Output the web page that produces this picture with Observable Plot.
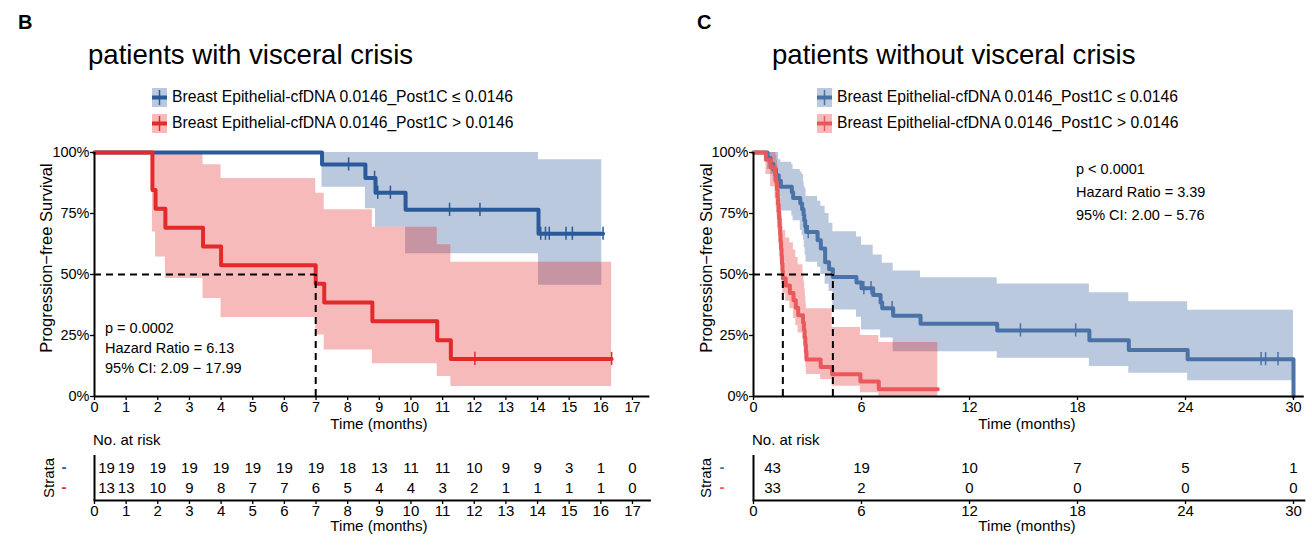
<!DOCTYPE html>
<html><head><meta charset="utf-8">
<script src="https://cdn.jsdelivr.net/npm/d3@7"></script>
<script src="https://cdn.jsdelivr.net/npm/@observablehq/plot@0.6"></script>
<style>
html,body{margin:0;padding:0;background:#fff;}
#root{position:relative;width:1312px;height:545px;overflow:hidden;font-family:'Liberation Sans',Arial,Helvetica,sans-serif;color:#000;}
.t{position:absolute;white-space:nowrap;line-height:1;}
</style></head><body><div id="root"></div>
<script>
// ---------------- DATA ----------------
const strata = ["Breast Epithelial-cfDNA 0.0146_Post1C ≤ 0.0146", "Breast Epithelial-cfDNA 0.0146_Post1C > 0.0146"];
const yTicks = [0, 0.25, 0.5, 0.75, 1];
const yTickLabels = ["0%", "25%", "50%", "75%", "100%"];
const medianLevel = 0.5;

// Panel B: patients with visceral crisis
const B_xTicks = [0,1,2,3,4,5,6,7,8,9,10,11,12,13,14,15,16,17];
const B_blueT = [0, 7.19, 8.56, 8.88, 9.83, 14.03, 16.07];
const B_blueS = [1, 0.951, 0.896, 0.835, 0.765, 0.667, 0.667];
const B_blueBandT  = [7.19, 8.56, 8.88, 9.83, 14.03, 16.03];
const B_blueBandLo = [0.858, 0.769, 0.694, 0.585, 0.456, 0.456];
const B_blueBandHi = [1, 1, 1, 1, 0.97, 0.97];
const B_blueCensT = [8.03, 8.85, 8.95, 9.35, 11.22, 12.18, 14.1, 14.25, 14.37, 14.9, 15.1, 16.07];
const B_blueCensS = [0.951, 0.896, 0.835, 0.835, 0.765, 0.765, 0.667, 0.667, 0.667, 0.667, 0.667, 0.667];
const B_redT = [0, 1.83, 1.93, 2.24, 3.43, 4.0, 6.99, 7.26, 8.78, 10.83, 11.26, 16.34];
const B_redS = [1, 0.846, 0.769, 0.692, 0.615, 0.538, 0.462, 0.385, 0.308, 0.231, 0.154, 0.154];
const B_redBandT  = [1.83, 1.93, 2.24, 3.43, 4.0, 6.99, 7.26, 8.78, 10.83, 11.26, 16.34];
const B_redBandLo = [0.674, 0.572, 0.484, 0.402, 0.324, 0.252, 0.191, 0.134, 0.082, 0.041, 0.041];
const B_redBandHi = [1, 1, 1, 0.95, 0.893, 0.833, 0.765, 0.694, 0.622, 0.55, 0.55];
const B_redCensT = [12.02, 16.34];
const B_redCensS = [0.154, 0.154];
const B_medians = [6.99];
const B_stats = ["p = 0.0002", "Hazard Ratio = 6.13", "95% CI: 2.09 − 17.99"];
const B_riskT = [0,1,2,3,4,5,6,7,8,9,10,11,12,13,14,15,16,17];
const B_riskBlue = [19,19,19,19,19,19,19,19,18,13,11,11,10,9,9,3,1,0];
const B_riskRed  = [13,13,10,9,8,7,7,6,5,4,4,3,2,1,1,1,1,0];

// Panel C: patients without visceral crisis
const C_xTicks = [0, 6, 12, 18, 24, 30];
const C_blueT = [0, 0.78, 0.95, 1.1, 1.25, 1.4, 1.52, 2.13, 2.2, 2.6, 2.7, 2.78, 2.82, 2.87, 2.92, 3.56, 3.74, 3.98, 4.2, 4.41, 5.72, 6.0, 6.65, 7.06, 7.15, 7.76, 9.28, 13.54, 18.66, 20.85, 24.12, 30.0];
const C_blueS = [1, 0.977, 0.953, 0.930, 0.907, 0.884, 0.860, 0.837, 0.814, 0.791, 0.767, 0.744, 0.721, 0.698, 0.674, 0.64, 0.607, 0.55, 0.522, 0.49, 0.467, 0.444, 0.416, 0.385, 0.362, 0.331, 0.298, 0.271, 0.231, 0.191, 0.153, 0];
const C_blueBandT  = [0.78, 0.95, 1.1, 1.25, 1.4, 1.52, 2.13, 2.2, 2.6, 2.7, 2.78, 2.82, 2.87, 2.92, 3.56, 3.74, 3.98, 4.2, 4.41, 5.72, 6.0, 6.65, 7.06, 7.15, 7.76, 9.28, 13.54, 18.66, 20.85, 24.12, 30.0];
const C_blueBandHi = [1, 1, 1, 1, 0.97, 0.96, 0.95, 0.93, 0.92, 0.91, 0.88, 0.86, 0.85, 0.82, 0.80, 0.78, 0.75, 0.71, 0.675, 0.654, 0.62, 0.58, 0.58, 0.546, 0.514, 0.487, 0.461, 0.425, 0.388, 0.353, 0.353];
const C_blueBandLo = [0.93, 0.91, 0.88, 0.85, 0.82, 0.76, 0.74, 0.72, 0.68, 0.66, 0.64, 0.61, 0.58, 0.55, 0.53, 0.50, 0.46, 0.43, 0.355, 0.325, 0.273, 0.273, 0.24, 0.24, 0.183, 0.183, 0.157, 0.123, 0.095, 0.065, 0.065];
const C_blueCensT = [3.04, 6.13, 6.53, 7.7, 14.83, 17.9, 28.2, 28.45, 29.14];
const C_blueCensS = [0.674, 0.444, 0.444, 0.362, 0.271, 0.271, 0.153, 0.153, 0.153];
const C_redT = [0, 0.69, 0.95, 1.2, 1.25, 1.3, 1.33, 1.36, 1.39, 1.42, 1.45, 1.48, 1.5, 1.53, 1.56, 1.58, 1.61, 1.63, 1.79, 2.02, 2.22, 2.35, 2.48, 2.75, 2.8, 2.84, 2.88, 2.91, 2.94, 3.73, 4.37, 5.94, 6.96, 10.24];
const C_redS = [1, 0.970, 0.939, 0.909, 0.879, 0.848, 0.818, 0.788, 0.758, 0.727, 0.697, 0.667, 0.636, 0.606, 0.576, 0.545, 0.515, 0.485, 0.455, 0.424, 0.394, 0.364, 0.333, 0.303, 0.273, 0.242, 0.212, 0.182, 0.152, 0.121, 0.091, 0.061, 0.030, 0.030];
const C_redBandT  = [0.69, 0.95, 1.2, 1.25, 1.3, 1.33, 1.36, 1.39, 1.42, 1.45, 1.48, 1.5, 1.53, 1.56, 1.58, 1.61, 1.63, 1.79, 2.02, 2.22, 2.35, 2.48, 2.75, 2.8, 2.84, 2.88, 2.91, 2.94, 3.73, 4.37, 5.94, 6.96, 10.24];
const C_redBandHi = [1.0, 1.0, 1.0, 0.99, 0.97, 0.95, 0.93, 0.91, 0.89, 0.86, 0.84, 0.81, 0.79, 0.76, 0.74, 0.71, 0.68, 0.65, 0.63, 0.60, 0.57, 0.54, 0.50, 0.47, 0.44, 0.41, 0.38, 0.36, 0.36, 0.283, 0.25, 0.221, 0.221];
const C_redBandLo = [0.91, 0.86, 0.81, 0.78, 0.74, 0.71, 0.68, 0.65, 0.62, 0.59, 0.56, 0.53, 0.50, 0.48, 0.46, 0.44, 0.42, 0.39, 0.36, 0.32, 0.29, 0.26, 0.23, 0.20, 0.17, 0.14, 0.12, 0.09, 0.07, 0.042, 0.015, 0, 0];
const C_redCensT = [];
const C_redCensS = [];
const C_medians = [1.63, 4.41];
const C_stats = ["p < 0.0001", "Hazard Ratio = 3.39", "95% CI: 2.00 − 5.76"];
const C_riskT = [0, 6, 12, 18, 24, 30];
const C_riskBlue = [43, 19, 10, 7, 5, 1];
const C_riskRed  = [33, 2, 0, 0, 0, 0];

// ---------------- STYLE ----------------
const FONT = "'Liberation Sans', Arial, Helvetica, sans-serif";
const BAND_BLUE = "#2E5C9C", BAND_RED = "#E41A1C";
const B_colors = {blue: "#2B5A9A", red: "#E4292B"};
const C_colors = {blue: "#4A72A7", red: "#E9585A"};

const root = document.getElementById("root");
function txt(s, x, base, size, o = {}) {
  const d = document.createElement("div");
  d.className = "t";
  d.textContent = s;
  d.style.fontSize = size + "px";
  if (o.bold) d.style.fontWeight = "bold";
  if (o.color) d.style.color = o.color;
  if (o.rotate) {
    d.style.left = x + "px"; d.style.top = base + "px";
    d.style.transform = "translate(-50%,-50%) rotate(-90deg)";
  } else {
    d.style.left = x + "px";
    d.style.top = (base - 0.8465 * size) + "px";
    if (o.anchor === "middle") d.style.transform = "translateX(-50%)";
    if (o.anchor === "end") d.style.transform = "translateX(-100%)";
  }
  root.appendChild(d);
  return d;
}
function put(node, left, top) {
  node.style.position = "absolute";
  node.style.left = left + "px";
  node.style.top = top + "px";
  root.appendChild(node);
}
const zip = (T, S) => T.map((t, i) => ({t, s: S[i]}));
const zipBand = (T, L, H) => T.map((t, i) => ({t, lo: L[i], hi: H[i]}));

function mainPlot(p) {
  const blue = zip(p.blueT, p.blueS), red = zip(p.redT, p.redS);
  const bBand = zipBand(p.blueBandT, p.blueBandLo, p.blueBandHi);
  const rBand = zipBand(p.redBandT, p.redBandLo, p.redBandHi);
  const bC = zip(p.blueCensT, p.blueCensS), rC = zip(p.redCensT, p.redCensS);
  return Plot.plot({
    width: p.width, height: 280,
    marginLeft: p.marginLeft, marginRight: p.marginRight, marginTop: 12, marginBottom: 24,
    style: {fontFamily: FONT, fontSize: "14.5px", color: "#000", background: "transparent", overflow: "visible"},
    x: {domain: p.xDomain},
    y: {domain: [0, 1]},
    marks: [
      Plot.areaY(bBand, {x: "t", y1: "lo", y2: "hi", curve: "step-after", fill: BAND_BLUE, fillOpacity: 0.33}),
      Plot.areaY(rBand, {x: "t", y1: "lo", y2: "hi", curve: "step-after", fill: BAND_RED, fillOpacity: 0.3}),
      Plot.line(blue, {x: "t", y: "s", curve: "step-after", stroke: p.colors.blue, strokeWidth: 4}),
      Plot.line(red, {x: "t", y: "s", curve: "step-after", stroke: p.colors.red, strokeWidth: 4}),
      Plot.ruleX(bC, {x: "t", y1: d => d.s - 0.027, y2: d => d.s + 0.027, stroke: p.colors.blue, strokeWidth: 1.5}),
      Plot.ruleX(rC, {x: "t", y1: d => d.s - 0.027, y2: d => d.s + 0.027, stroke: p.colors.red, strokeWidth: 1.5}),
      Plot.ruleY([medianLevel], {x1: 0, x2: d3.max(p.medians), stroke: "#000", strokeWidth: 2, strokeDasharray: "7,5"}),
      Plot.ruleX(p.medians, {x: d => d, y1: 0, y2: medianLevel, stroke: "#000", strokeWidth: 2, strokeDasharray: "7,5"}),
      Plot.ruleX([0], {stroke: "#000", strokeWidth: 2}),
      Plot.ruleY([0], {stroke: "#000", strokeWidth: 2}),
      Plot.axisX({ticks: p.xTicks, tickFormat: d => String(d), tickSize: 4, tickPadding: 1, label: null, stroke: "#000", strokeWidth: 1.3}),
      Plot.axisY({ticks: yTicks, tickFormat: (d) => yTickLabels[yTicks.indexOf(d)], tickSize: 4, tickPadding: 1, label: null, stroke: "#000", strokeWidth: 1.3})
    ]
  });
}

function tablePlot(p) {
  const rows = [];
  p.times.forEach((t, i) => {
    rows.push({t, g: strata[0], n: p.blueN[i]});
    rows.push({t, g: strata[1], n: p.redN[i]});
  });
  return Plot.plot({
    width: p.width, height: 95,
    marginLeft: p.marginLeft, marginRight: p.marginRight, marginTop: 5, marginBottom: 45,
    style: {fontFamily: FONT, fontSize: "15px", color: "#000", background: "transparent", overflow: "visible"},
    x: {domain: p.xDomain},
    y: {type: "point", domain: strata, padding: 0.6, axis: null},
    marks: [
      Plot.text(rows.filter(d => d.t === p.times[0]), {x: "t", y: "g", text: d => String(d.n), dx: p.firstDx, fontSize: 15, fill: "#000"}),
      Plot.text(rows.filter(d => d.t !== p.times[0]), {x: "t", y: "g", text: d => String(d.n), fontSize: 15, fill: "#000"}),
      Plot.ruleX([0], {stroke: "#000", strokeWidth: 2}),
      Plot.frame({anchor: "bottom", stroke: "#000", strokeWidth: 2}),
      Plot.axisX({ticks: p.xTicks, tickFormat: d => String(d), tickSize: 4, tickPadding: 1, label: null, stroke: "#000", strokeWidth: 1.3})
    ]
  });
}

function legendKey(line, band, x, y) {
  const ns = "http://www.w3.org/2000/svg";
  const s = document.createElementNS(ns, "svg");
  s.setAttribute("width", 15); s.setAttribute("height", 19);
  const r = document.createElementNS(ns, "rect");
  r.setAttribute("width", 15); r.setAttribute("height", 19);
  r.setAttribute("fill", band.c); r.setAttribute("fill-opacity", band.o);
  s.appendChild(r);
  const h = document.createElementNS(ns, "line");
  h.setAttribute("x1", 0); h.setAttribute("x2", 15); h.setAttribute("y1", 9.5); h.setAttribute("y2", 9.5);
  h.setAttribute("stroke", line); h.setAttribute("stroke-width", 4);
  s.appendChild(h);
  const v = document.createElementNS(ns, "line");
  v.setAttribute("x1", 7.5); v.setAttribute("x2", 7.5); v.setAttribute("y1", 2); v.setAttribute("y2", 17);
  v.setAttribute("stroke", line); v.setAttribute("stroke-width", 1.5);
  s.appendChild(v);
  put(s, x, y);
}

// ---------------- PANEL B ----------------
put(mainPlot({
  width: 652, marginLeft: 94, marginRight: 2.6, xDomain: [0, 17.55], xTicks: B_xTicks, colors: B_colors,
  blueT: B_blueT, blueS: B_blueS, blueBandT: B_blueBandT, blueBandLo: B_blueBandLo, blueBandHi: B_blueBandHi,
  redT: B_redT, redS: B_redS, redBandT: B_redBandT, redBandLo: B_redBandLo, redBandHi: B_redBandHi,
  blueCensT: B_blueCensT, blueCensS: B_blueCensS, redCensT: B_redCensT, redCensS: B_redCensS, medians: B_medians
}), 0, 140);
put(tablePlot({width: 652, marginLeft: 94, marginRight: 2.6, xDomain: [0, 17.55], xTicks: B_xTicks,
  times: B_riskT, blueN: B_riskBlue, redN: B_riskRed, firstDx: 12}), 0, 450);

txt("B", 18, 29, 20, {bold: true});
txt("patients with visceral crisis", 88, 64, 27.6);
legendKey(B_colors.blue, {c: BAND_BLUE, o: 0.33}, 152, 88);
txt(strata[0], 172, 102.5, 15.7);
legendKey(B_colors.red, {c: BAND_RED, o: 0.3}, 152, 114);
txt(strata[1], 172, 128.5, 15.7);
txt("Progression−free Survival", 46, 258, 16.5, {rotate: true});
txt("Time (months)", 379, 429, 15.2, {anchor: "middle"});
B_stats.forEach((s, i) => txt(s, 105, 333 + i * 20, 14.5));
txt("No. at risk", 93, 445, 15);
txt("Strata", 48, 478, 15, {rotate: true});
txt("-", 64, 472, 15, {color: B_colors.blue, anchor: "middle", bold: true});
txt("-", 64, 492, 15, {color: B_colors.red, anchor: "middle", bold: true});
txt("Time (months)", 379, 531, 15.2, {anchor: "middle"});

// ---------------- PANEL C ----------------
put(mainPlot({
  width: 652, marginLeft: 93, marginRight: 8.2, xDomain: [0, 30.6], xTicks: C_xTicks, colors: C_colors,
  blueT: C_blueT, blueS: C_blueS, blueBandT: C_blueBandT, blueBandLo: C_blueBandLo, blueBandHi: C_blueBandHi,
  redT: C_redT, redS: C_redS, redBandT: C_redBandT, redBandLo: C_redBandLo, redBandHi: C_redBandHi,
  blueCensT: C_blueCensT, blueCensS: C_blueCensS, redCensT: C_redCensT, redCensS: C_redCensS, medians: C_medians
}), 660, 140);
put(tablePlot({width: 652, marginLeft: 93, marginRight: 8.2, xDomain: [0, 30.6], xTicks: C_xTicks,
  times: C_riskT, blueN: C_riskBlue, redN: C_riskRed, firstDx: 19}), 660, 450);

txt("C", 697, 29, 20, {bold: true});
txt("patients without visceral crisis", 772, 64, 27.6);
legendKey(C_colors.blue, {c: BAND_BLUE, o: 0.33}, 817, 88);
txt(strata[0], 837, 102.5, 15.7);
legendKey(C_colors.red, {c: BAND_RED, o: 0.3}, 817, 114);
txt(strata[1], 837, 128.5, 15.7);
txt("Progression−free Survival", 706, 258, 16.5, {rotate: true});
txt("Time (months)", 1027, 429, 15.2, {anchor: "middle"});
C_stats.forEach((s, i) => txt(s, 1076, 174 + i * 23, 14.5));
txt("No. at risk", 752, 445, 15);
txt("Strata", 705, 478, 15, {rotate: true});
txt("-", 722, 472, 15, {color: C_colors.blue, anchor: "middle", bold: true});
txt("-", 722, 492, 15, {color: C_colors.red, anchor: "middle", bold: true});
txt("Time (months)", 1027, 531, 15.2, {anchor: "middle"});
</script></body></html>
